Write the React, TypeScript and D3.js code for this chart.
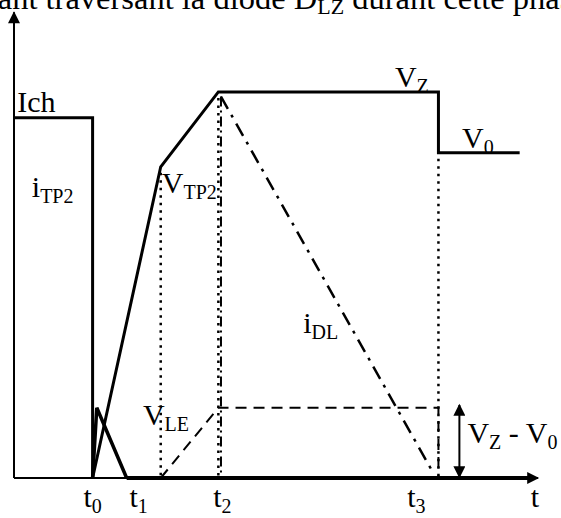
import React from "react";
import * as d3 from "d3";

// time axis (arbitrary units) and level axis (arbitrary units)
const tickNames = ["t0", "t1", "t2", "t3", "t"];
const tickTimes = [1.5, 2.15, 3.9, 8.1, 10];

// i_TP2 : load current, then falls to zero at t0
const iTP2T = [0, 1.5, 1.5];
const iTP2V = [7.7, 7.7, 0];

// V_TP2 : rises from t0, knee, clamps at V_Z, then drops to V_0
const vTP2T = [1.5, 2.8, 3.9, 8.1, 8.1, 9.65];
const vTP2V = [0, 6.65, 8.25, 8.25, 6.95, 6.95];

// short current spike around t0
const spikeT = [1.5, 1.58, 2.15];
const spikeV = [0, 1.5, 0];

// zero current after t1 (thick)
const zeroT = [2.15, 9.9];
const zeroV = [0, 0];

// V_LE : dashed
const vLET = [2.8, 3.9, 8.1, 8.1];
const vLEV = [0, 1.5, 1.5, 0];

// i_DL : dash-dot ramp down
const iDLT = [3.95, 7.98];
const iDLV = [8.15, 0.15];

// dotted construction verticals
const dotT = [2.8, 3.9, 8.1];
const dotTop = [6.65, 8.25, 6.95];

// labels
const labelMain = ["Ich", "i", "V", "V", "V", "i", "V"];
const labelSub = ["", "TP2", "TP2", "Z", "0", "DL", "LE"];
const labelT = [0.06, 0.34, 2.82, 7.27, 8.55, 5.52, 2.46];
const labelV = [7.82, 6.0, 6.09, 8.35, 7.05, 3.1, 1.13];

// V_Z - V_0 difference arrow
const diffT = 8.5;
const diffV = [1.56, 0.02];

const W = 561;
const H = 518;
const FONT = "'Liberation Serif', 'Times New Roman', serif";

export default function App() {
  const x = d3.scaleLinear().domain([0, 10]).range([14, 538]);
  const y = d3.scaleLinear().domain([0, 10]).range([478, 10]);

  const line = d3
    .line<[number, number]>()
    .x((d) => x(d[0]))
    .y((d) => y(d[1]));

  const pts = (ts: number[], vs: number[]) =>
    ts.map((t, i) => [t, vs[i]] as [number, number]);

  // small offsets for the tick labels, as in the original sketch
  const tickDx = [0, 12, 4, -22, -3];

  return (
    <svg
      width={W}
      height={H}
      style={{ position: "absolute", left: 0, top: 0, background: "#fff" }}
      fontFamily={FONT}
    >
      <defs>
        <marker id="arrBig" viewBox="0 0 10 10" refX="9" refY="5" markerWidth="14" markerHeight="12" orient="auto-start-reverse" markerUnits="userSpaceOnUse">
          <path d="M0,0 L10,5 L0,10 z" fill="#000" />
        </marker>
      </defs>

      {/* caption cut off at the top, as in the scanned page */}
      <text x={-60} y={9} fontSize={32.5} fill="#000">
        courant traversant la diode D
        <tspan fontSize={22} dy={5}>LZ</tspan>
        <tspan dy={-5}> durant cette phase</tspan>
      </text>

      {/* axes */}
      <line x1={x(0)} y1={y(0)} x2={x(0)} y2={y(9.95)} stroke="#000" strokeWidth={2} markerEnd="url(#arrBig)" />
      <line x1={x(0)} y1={y(0)} x2={x(10)} y2={y(0)} stroke="#000" strokeWidth={2} markerEnd="url(#arrBig)" />

      {/* dotted verticals */}
      {dotT.map((t, i) => (
        <line key={"d" + i} x1={x(t)} y1={y(dotTop[i]) + 6} x2={x(t)} y2={y(0)} stroke="#000" strokeWidth={2.5} strokeDasharray="2.5,5" />
      ))}
      {/* dash-dot vertical at t2 */}
      <line x1={x(iDLT[0])} y1={y(iDLV[0])} x2={x(iDLT[0])} y2={y(0)} stroke="#000" strokeWidth={2} strokeDasharray="10,4,2,4" />

      {/* i_TP2 */}
      <path d={line(pts(iTP2T, iTP2V)) || ""} fill="none" stroke="#000" strokeWidth={3} />
      {/* V_TP2 */}
      <path d={line(pts(vTP2T, vTP2V)) || ""} fill="none" stroke="#000" strokeWidth={3} strokeLinejoin="miter" />
      {/* spike */}
      <path d={line(pts(spikeT, spikeV)) || ""} fill="none" stroke="#000" strokeWidth={3.5} />
      {/* zero current */}
      <path d={line(pts(zeroT, zeroV)) || ""} fill="none" stroke="#000" strokeWidth={4} />
      {/* V_LE */}
      <path d={line(pts(vLET, vLEV)) || ""} fill="none" stroke="#000" strokeWidth={2} strokeDasharray="11,7" />
      {/* i_DL */}
      <path d={line(pts(iDLT, iDLV)) || ""} fill="none" stroke="#000" strokeWidth={2.5} strokeDasharray="14,7,3,7" />

      {/* V_Z - V_0 arrow */}
      <line x1={x(diffT)} y1={y(diffV[0])} x2={x(diffT)} y2={y(diffV[1])} stroke="#000" strokeWidth={2} markerStart="url(#arrBig)" markerEnd="url(#arrBig)" />
      <text x={x(diffT) + 8} y={y(0.75)} fontSize={30} fill="#000">
        V<tspan fontSize={20} dy={6}>Z</tspan>
        <tspan dy={-6}> - V</tspan>
        <tspan fontSize={20} dy={6}>0</tspan>
      </text>

      {/* curve labels */}
      {labelMain.map((m, i) => (
        <text key={"l" + i} x={x(labelT[i])} y={y(labelV[i])} fontSize={30} fill="#000">
          {m}
          {labelSub[i] && (
            <tspan fontSize={20} dy={6}>
              {labelSub[i]}
            </tspan>
          )}
        </text>
      ))}

      {/* time labels */}
      {tickNames.map((n, i) => (
        <text key={"t" + i} x={x(tickTimes[i]) + tickDx[i]} y={507} fontSize={30} fill="#000" textAnchor="middle">
          {n.charAt(0)}
          {n.length > 1 && (
            <tspan fontSize={20} dy={6}>
              {n.slice(1)}
            </tspan>
          )}
        </text>
      ))}
    </svg>
  );
}
